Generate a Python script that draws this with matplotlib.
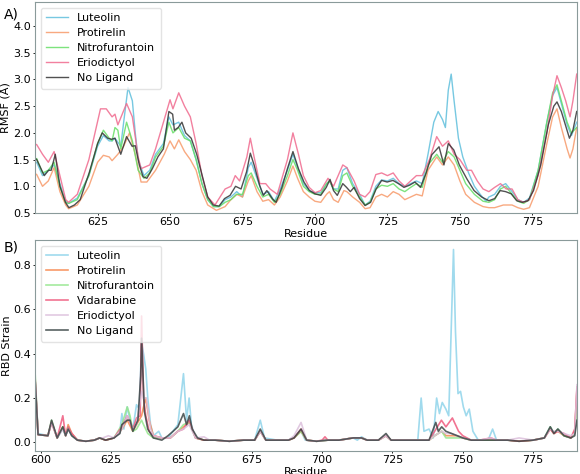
import matplotlib
matplotlib.use("Agg")
import matplotlib.pyplot as plt

# ---- A) RMSF per residue ----
lut_res = [603, 604, 606, 608, 610, 612, 614, 615, 618, 622, 625, 627, 629, 630, 631, 633, 634, 635.5, 637, 638, 639, 641, 643, 645, 647.7, 649.6, 651, 653, 655, 657, 659, 661, 663, 665, 667, 669, 671, 673, 675, 677, 678, 680, 682, 684, 686, 688, 690.5, 692.4, 694, 696, 698, 700, 702, 704, 705, 706.4, 708, 709.6, 711, 713, 715.4, 717.3, 719, 721, 723, 725, 727, 729, 731, 733, 735, 737, 739, 741, 742.5, 744, 745, 746, 747, 748, 749.5, 751, 753, 755, 757, 759, 760, 762, 764, 765.8, 768, 770, 772, 774, 777, 780, 782, 783.5, 785, 787, 788.5, 790.3]
lut_val = [1.42, 1.45, 1.2, 1.3, 1.4, 1.05, 0.72, 0.68, 0.78, 1.2, 1.75, 1.95, 1.85, 1.85, 1.9, 1.75, 2.2, 2.85, 2.6, 2.0, 1.5, 1.2, 1.3, 1.6, 1.8, 2.3, 2.15, 2.2, 1.95, 1.85, 1.5, 1.05, 0.75, 0.62, 0.62, 0.75, 0.8, 0.9, 0.8, 1.35, 1.45, 1.15, 0.85, 0.9, 0.72, 0.95, 1.3, 1.6, 1.35, 1.05, 0.92, 0.88, 0.88, 1.05, 1.1, 0.95, 0.95, 1.3, 1.35, 1.05, 0.85, 0.65, 0.72, 1.0, 1.12, 1.1, 1.15, 1.05, 1.0, 1.05, 1.1, 1.05, 1.6, 2.2, 2.4, 2.25, 2.1, 2.8, 3.1, 2.6, 1.9, 1.55, 1.25, 1.0, 0.85, 0.72, 0.8, 0.85, 1.0, 1.05, 0.9, 0.75, 0.7, 0.78, 1.3, 2.2, 2.7, 2.85, 2.55, 2.15, 1.95, 2.2]

pro_res = [603, 604, 606, 608, 610, 612, 614, 615, 618, 622, 625, 627, 629, 630, 632, 634, 636, 638, 640, 642, 645, 648, 650, 651.5, 653, 655, 657, 659, 661, 663, 666, 669, 671, 673, 675, 677, 678, 680, 682, 684, 686, 688, 690.5, 692.4, 694, 696, 698, 700, 702, 704, 705, 706.4, 708, 710, 711, 713, 715.4, 717.3, 719, 721, 723, 725, 727, 729, 731, 733, 735, 737, 739, 742, 744, 746, 748, 750, 752, 755, 758, 760, 762, 765, 768, 770, 772, 774, 777, 780, 782, 783.5, 785, 787, 788, 789, 790.3]
pro_val = [1.25, 1.22, 1.0, 1.1, 1.35, 0.9, 0.65, 0.58, 0.65, 1.0, 1.45, 1.58, 1.55, 1.48, 1.6, 1.75, 2.0, 1.6, 1.08, 1.08, 1.3, 1.6, 1.85, 1.7, 1.87, 1.65, 1.5, 1.3, 0.9, 0.65, 0.55, 0.62, 0.75, 0.85, 0.8, 1.1, 1.2, 0.9, 0.72, 0.75, 0.65, 0.8, 1.1, 1.38, 1.15, 0.9, 0.8, 0.72, 0.7, 0.85, 0.9, 0.75, 0.7, 0.92, 0.9, 0.8, 0.7, 0.58, 0.6, 0.8, 0.85, 0.8, 0.9, 0.85, 0.75, 0.8, 0.85, 0.82, 1.3, 1.55, 1.4, 1.55, 1.4, 1.1, 0.85, 0.7, 0.62, 0.6, 0.6, 0.65, 0.65, 0.6, 0.57, 0.6, 1.0, 1.8, 2.3, 2.45, 2.1, 1.7, 1.53, 1.7, 2.1]

nit_res = [603, 604, 606, 608, 610, 612, 614, 615, 618, 622, 625, 627, 629, 630, 631, 632, 633, 635, 637, 639, 641, 643, 645, 647.7, 649.6, 651, 653, 655, 657, 659, 661, 663, 665, 667, 669, 671, 673, 675, 677, 678, 680, 682, 684, 686, 688, 690.5, 692.4, 694, 696, 698, 700, 702, 704, 705, 706.4, 708, 709.6, 711, 713, 715.4, 717.3, 719, 721, 723, 725, 727, 729, 731, 733, 735, 737, 739, 742, 744, 746, 748, 750, 752, 755, 758, 760, 762, 764, 765.8, 768, 770, 772, 774, 777, 780, 782, 783.5, 785, 787, 788.5, 790.3]
nit_val = [1.5, 1.52, 1.25, 1.3, 1.45, 1.0, 0.7, 0.68, 0.75, 1.2, 1.8, 2.05, 1.9, 1.85, 2.1, 2.05, 1.7, 2.2, 1.85, 1.3, 1.15, 1.25, 1.55, 1.75, 2.2, 2.0, 2.1, 1.9, 1.85, 1.5, 1.05, 0.75, 0.62, 0.62, 0.7, 0.75, 0.85, 0.85, 1.2, 1.25, 1.0, 0.8, 0.85, 0.7, 0.85, 1.2, 1.5, 1.3, 1.0, 0.9, 0.85, 0.85, 1.05, 1.1, 0.95, 0.9, 1.2, 1.25, 1.0, 0.8, 0.65, 0.7, 0.95, 1.02, 1.0, 1.05, 0.95, 0.9, 0.98, 1.05, 0.98, 1.4, 1.6, 1.45, 1.65, 1.55, 1.3, 1.05, 0.85, 0.72, 0.7, 0.75, 0.95, 1.0, 0.85, 0.72, 0.68, 0.75, 1.3, 2.2, 2.75, 2.9, 2.6, 2.2, 2.0, 2.1]

eri_res = [603, 604, 606, 608, 610, 612, 614, 615, 618, 622, 626, 628, 630, 631, 632, 635, 637, 639, 640, 643, 645, 648, 650, 651, 653, 655, 657, 659, 661, 663, 665.5, 669, 671, 672.5, 674, 676.5, 677.7, 679, 681, 683, 684.5, 687, 690.5, 692.4, 694.3, 696, 698, 700, 702, 704.5, 706.4, 709.6, 711, 713.5, 715.4, 717.3, 719, 721, 723, 725, 727, 729, 731, 733, 735, 737, 739.5, 742, 744, 746, 748, 750, 752.4, 754, 756, 758, 760, 762, 764, 766, 768, 770, 772, 774, 777, 780, 782, 783.5, 785, 786.5, 788, 789, 790.3]
eri_val = [1.8, 1.78, 1.6, 1.45, 1.65, 1.2, 0.75, 0.7, 0.85, 1.5, 2.45, 2.45, 2.3, 2.35, 2.15, 2.55, 2.3, 1.55, 1.33, 1.4, 1.7, 2.25, 2.62, 2.45, 2.75, 2.5, 2.3, 1.8, 1.2, 0.8, 0.65, 0.95, 1.0, 1.2, 1.1, 1.55, 1.9, 1.55, 1.05, 1.05, 0.95, 0.85, 1.5, 2.0, 1.6, 1.2, 0.98, 0.88, 0.92, 1.15, 1.0, 1.4, 1.35, 1.1, 0.85, 0.8, 0.9, 1.22, 1.25, 1.2, 1.25, 1.1, 1.0, 1.1, 1.2, 1.2, 1.5, 1.93, 1.75, 1.85, 1.6, 1.5, 1.3, 1.3, 1.1, 0.95, 0.9, 0.98, 1.05, 0.95, 0.95, 0.75, 0.7, 0.75, 1.2, 2.0, 2.7, 3.07, 2.85, 2.6, 2.3, 2.6, 3.1]

nol_res = [603, 604, 606.6, 608.1, 609, 610.4, 612, 613.9, 615.1, 617, 619, 622.2, 625, 626.6, 628.5, 629.8, 631, 633, 635, 636.9, 638, 639.4, 640.7, 642, 643.9, 645.8, 647.7, 649.6, 650.9, 651.5, 652.8, 654.1, 655.4, 657.3, 659.2, 661.1, 663, 664.9, 666.9, 668.8, 670.7, 672.6, 674.5, 676.4, 677.7, 679, 680.9, 682.2, 683.4, 685.4, 686.6, 688.6, 690.5, 692.4, 694.3, 696.2, 698.1, 700, 702, 703.9, 705.2, 706.4, 707.7, 709.6, 710.9, 712.2, 713.5, 715.4, 717.3, 719.2, 721.1, 723, 724.9, 726.9, 728.8, 730.7, 732.6, 734.5, 736.4, 738.3, 740.3, 742.8, 744.5, 746, 747.9, 749.8, 752.4, 754.9, 757.5, 760, 762, 763.9, 765.8, 767.7, 769.6, 771.5, 773.5, 775.4, 777.9, 780.5, 782.4, 783.5, 785, 787.8, 789, 790.3]
nol_val = [1.54, 1.5, 1.2, 1.3, 1.3, 1.6, 1.0, 0.7, 0.6, 0.65, 0.75, 1.27, 1.8, 2.0, 1.9, 1.88, 1.9, 1.6, 1.93, 1.75, 1.76, 1.4, 1.18, 1.15, 1.33, 1.55, 1.7, 2.4, 2.35, 2.05, 2.1, 2.2, 2.0, 1.9, 1.6, 1.2, 0.8, 0.65, 0.63, 0.77, 0.83, 1.0, 0.95, 1.27, 1.62, 1.4, 1.02, 0.83, 0.92, 0.76, 0.7, 0.98, 1.33, 1.65, 1.33, 1.08, 0.92, 0.86, 0.83, 0.98, 1.13, 0.92, 0.83, 1.05, 0.98, 0.9, 0.98, 0.77, 0.64, 0.7, 0.95, 1.11, 1.08, 1.11, 1.05, 0.98, 1.02, 1.08, 0.98, 1.24, 1.59, 1.74, 1.4, 1.8, 1.68, 1.4, 1.14, 0.92, 0.8, 0.73, 0.77, 0.92, 0.9, 0.86, 0.73, 0.7, 0.73, 0.92, 1.4, 2.15, 2.5, 2.58, 2.4, 1.9, 2.05, 2.4]

# ---- B) RBD strain per residue ----
b_lut_res = [598, 599, 602.5, 603.8, 605.8, 607.8, 608.8, 609.7, 611, 613, 616, 619, 620.9, 623, 626, 628.1, 628.8, 629.5, 630.7, 631.7, 632.7, 634, 635, 635.8, 636.5, 637.3, 638, 639, 640, 641.9, 643, 645.2, 648.7, 650.7, 651.8, 652.7, 653.5, 655, 658, 662, 667, 672, 676, 678, 679.5, 684, 688, 690, 692.5, 694, 698, 702, 706, 711, 712.5, 714, 716, 720, 722.7, 724.5, 729, 734, 735.2, 736.2, 738, 739.5, 740.7, 741.7, 742.7, 744, 745, 746.7, 747.4, 748.3, 749.2, 750.2, 751.2, 752.3, 753.6, 755.5, 759, 760.6, 762, 766, 770, 775, 779, 781.1, 782.4, 783.8, 786, 788.4, 789.8, 790.6]
b_lut_val = [0.27, 0.04, 0.03, 0.09, 0.02, 0.06, 0.03, 0.06, 0.03, 0.01, 0.005, 0.01, 0.02, 0.01, 0.02, 0.05, 0.13, 0.06, 0.16, 0.1, 0.06, 0.17, 0.15, 0.45, 0.4, 0.33, 0.2, 0.08, 0.03, 0.05, 0.02, 0.02, 0.08, 0.31, 0.1, 0.2, 0.08, 0.02, 0.01, 0.01, 0.005, 0.01, 0.01, 0.1, 0.02, 0.01, 0.01, 0.02, 0.05, 0.01, 0.005, 0.01, 0.01, 0.02, 0.01, 0.025, 0.01, 0.01, 0.03, 0.01, 0.01, 0.01, 0.2, 0.05, 0.06, 0.02, 0.2, 0.13, 0.18, 0.15, 0.12, 0.87, 0.5, 0.22, 0.23, 0.16, 0.12, 0.15, 0.05, 0.01, 0.01, 0.06, 0.01, 0.01, 0.005, 0.01, 0.02, 0.07, 0.04, 0.06, 0.03, 0.02, 0.05, 0.2]

b_pro_res = [598, 599, 602.5, 603.8, 605.8, 607.8, 608.8, 609.7, 611, 613, 616, 619, 620.9, 623, 626, 628.8, 630.7, 632.7, 634, 635.8, 636.5, 637.3, 638.5, 640, 643, 646, 648.7, 650.7, 652.7, 655, 658, 662, 667, 672, 676, 678, 680, 684, 688, 690, 692.5, 694.5, 698, 702, 706, 711, 714, 716, 720, 722.7, 724.5, 729, 734, 738, 740, 742.5, 744, 746, 748, 750, 753, 756, 760, 762, 766, 770, 775, 779, 781.1, 782.4, 783.8, 786, 788.4, 789.8, 790.6]
b_pro_val = [0.26, 0.035, 0.03, 0.09, 0.02, 0.07, 0.03, 0.08, 0.04, 0.01, 0.005, 0.01, 0.02, 0.01, 0.02, 0.06, 0.1, 0.05, 0.08, 0.12, 0.16, 0.2, 0.1, 0.03, 0.02, 0.02, 0.05, 0.07, 0.09, 0.02, 0.01, 0.01, 0.005, 0.01, 0.01, 0.05, 0.01, 0.01, 0.01, 0.02, 0.05, 0.01, 0.005, 0.01, 0.01, 0.02, 0.02, 0.01, 0.01, 0.03, 0.01, 0.01, 0.01, 0.01, 0.03, 0.05, 0.03, 0.03, 0.03, 0.02, 0.01, 0.01, 0.01, 0.01, 0.01, 0.005, 0.01, 0.02, 0.06, 0.04, 0.05, 0.03, 0.02, 0.05, 0.24]

b_nit_res = [598, 599, 602.5, 603.8, 605.8, 607.8, 608.8, 609.7, 611, 613, 616, 619, 620.9, 623, 626, 628.8, 630.7, 631.7, 632.7, 634, 635.8, 636.5, 638, 640, 643, 646, 648.7, 650.7, 652.7, 655, 658, 662, 667, 672, 676, 678, 680, 684, 688, 690, 692.5, 694.5, 698, 702, 706, 711, 714, 716, 720, 722.7, 724.5, 729, 734, 738, 740, 742.5, 744, 746, 748, 750, 753, 756, 760, 762, 766, 770, 775, 779, 781.1, 782.4, 783.8, 786, 788.4, 789.8, 790.6]
b_nit_val = [0.3, 0.035, 0.03, 0.1, 0.02, 0.07, 0.03, 0.07, 0.03, 0.01, 0.005, 0.01, 0.02, 0.01, 0.02, 0.08, 0.16, 0.12, 0.05, 0.06, 0.1, 0.08, 0.04, 0.02, 0.02, 0.02, 0.05, 0.08, 0.09, 0.02, 0.01, 0.01, 0.005, 0.01, 0.01, 0.05, 0.01, 0.01, 0.01, 0.02, 0.05, 0.01, 0.005, 0.01, 0.01, 0.02, 0.02, 0.01, 0.01, 0.03, 0.01, 0.01, 0.01, 0.01, 0.03, 0.05, 0.02, 0.02, 0.02, 0.02, 0.01, 0.01, 0.01, 0.01, 0.01, 0.005, 0.01, 0.02, 0.07, 0.04, 0.06, 0.03, 0.02, 0.04, 0.15]

b_vid_res = [598, 599, 602.5, 603.8, 605.8, 607.8, 608.8, 609.7, 611, 613, 616, 619, 620.9, 623, 626, 628.8, 630.7, 632.7, 634, 635.3, 635.8, 636.5, 637.3, 638.5, 640, 643, 646, 648.7, 650.7, 652.7, 655, 658, 662, 667, 672, 676, 678, 680, 684, 688, 690, 692.5, 694.5, 698, 700, 701, 702, 706, 711, 714, 716, 720, 722.7, 724.5, 729, 734, 738, 740, 742.4, 744, 746.3, 748.5, 750, 753, 756, 760, 762, 766, 770, 775, 779, 781.1, 782.4, 783.8, 786, 788.4, 789.8, 790.6]
b_vid_val = [0.28, 0.035, 0.03, 0.09, 0.02, 0.12, 0.03, 0.07, 0.04, 0.01, 0.005, 0.01, 0.02, 0.01, 0.02, 0.07, 0.12, 0.06, 0.11, 0.12, 0.57, 0.2, 0.12, 0.05, 0.03, 0.02, 0.02, 0.05, 0.06, 0.1, 0.02, 0.01, 0.01, 0.005, 0.01, 0.01, 0.05, 0.01, 0.01, 0.01, 0.02, 0.06, 0.01, 0.005, 0.01, 0.025, 0.01, 0.01, 0.02, 0.02, 0.01, 0.01, 0.03, 0.01, 0.01, 0.01, 0.01, 0.05, 0.1, 0.07, 0.11, 0.05, 0.03, 0.01, 0.01, 0.02, 0.01, 0.01, 0.005, 0.01, 0.02, 0.06, 0.04, 0.05, 0.04, 0.02, 0.06, 0.25]

b_eri_res = [598, 599, 602.5, 603.8, 605.8, 607.8, 608.8, 609.7, 611, 613, 616, 619, 620.9, 622, 624, 626, 628.8, 630.7, 632.7, 634, 635.8, 636.5, 637.5, 639, 640, 643, 646, 648.7, 650.7, 652.7, 655, 658, 660, 662, 667, 672, 676, 678, 680, 684, 688, 690, 692.5, 694.5, 698, 702, 706, 711, 714, 716, 720, 722.7, 724.5, 729, 734, 738, 740, 742.5, 744, 746, 748, 750, 753, 756, 760, 762, 766, 770, 775, 779, 781.1, 782.4, 783.8, 786, 788.4, 789.8, 790.6]
b_eri_val = [0.27, 0.035, 0.03, 0.09, 0.02, 0.06, 0.03, 0.06, 0.03, 0.01, 0.005, 0.01, 0.02, 0.02, 0.03, 0.02, 0.06, 0.12, 0.06, 0.08, 0.23, 0.2, 0.2, 0.06, 0.03, 0.02, 0.02, 0.05, 0.06, 0.08, 0.02, 0.025, 0.01, 0.01, 0.005, 0.01, 0.01, 0.05, 0.01, 0.01, 0.01, 0.03, 0.09, 0.01, 0.005, 0.01, 0.01, 0.02, 0.02, 0.01, 0.01, 0.03, 0.01, 0.01, 0.01, 0.01, 0.03, 0.05, 0.04, 0.04, 0.03, 0.02, 0.01, 0.01, 0.02, 0.01, 0.01, 0.02, 0.01, 0.02, 0.06, 0.05, 0.05, 0.04, 0.03, 0.04, 0.26]

b_nol_res = [598, 599, 602.5, 603.8, 605.8, 607.8, 608.8, 609.7, 611, 613, 616, 619, 620.9, 623, 626, 628.1, 628.8, 630.7, 631.7, 632.7, 634.5, 635.5, 635.8, 636.8, 638, 640, 643, 645.2, 647, 648.7, 650.7, 651.8, 652.8, 653.8, 655.7, 658, 662, 667, 672, 676, 678, 680, 684, 688, 690, 692.5, 694.5, 698, 702, 706, 711, 714, 716, 720, 722.7, 724.5, 729, 734, 738, 740.4, 741.3, 742.5, 744, 746, 750, 753, 756, 760, 762, 766, 770, 775, 779, 781.1, 782.4, 783.8, 786, 788.4, 789.8, 790.6]
b_nol_val = [0.27, 0.035, 0.03, 0.1, 0.02, 0.07, 0.03, 0.06, 0.03, 0.01, 0.005, 0.01, 0.02, 0.01, 0.02, 0.04, 0.08, 0.1, 0.1, 0.05, 0.1, 0.3, 0.47, 0.14, 0.06, 0.02, 0.01, 0.03, 0.05, 0.07, 0.13, 0.08, 0.12, 0.06, 0.02, 0.01, 0.01, 0.005, 0.01, 0.01, 0.06, 0.01, 0.01, 0.01, 0.02, 0.06, 0.01, 0.005, 0.01, 0.01, 0.02, 0.02, 0.01, 0.01, 0.04, 0.01, 0.01, 0.01, 0.01, 0.09, 0.05, 0.07, 0.05, 0.04, 0.02, 0.01, 0.01, 0.01, 0.01, 0.01, 0.005, 0.01, 0.02, 0.07, 0.04, 0.06, 0.03, 0.02, 0.03, 0.1]

top_series = [
    ("Luteolin", lut_res, lut_val, "#5fbfdc", 1.0),
    ("Protirelin", pro_res, pro_val, "#f79a6a", 1.0),
    ("Nitrofurantoin", nit_res, nit_val, "#66de66", 1.0),
    ("Eriodictyol", eri_res, eri_val, "#f06a8e", 1.0),
    ("No Ligand", nol_res, nol_val, "#333333", 1.0),
]
bottom_series = [
    ("Luteolin", b_lut_res, b_lut_val, "#8fd4ea", 1.2),
    ("Protirelin", b_pro_res, b_pro_val, "#f7884e", 1.2),
    ("Nitrofurantoin", b_nit_res, b_nit_val, "#95e68d", 1.2),
    ("Vidarabine", b_vid_res, b_vid_val, "#ef5a7e", 1.2),
    ("Eriodictyol", b_eri_res, b_eri_val, "#dcc0dc", 1.2),
    ("No Ligand", b_nol_res, b_nol_val, "#3c4646", 1.2),
]

plt.rcParams["font.family"] = ["DejaVu Sans"]
plt.rcParams["font.size"] = 8

fig = plt.figure(figsize=(5.8, 4.74), dpi=100)
ax_a = fig.add_axes([0.0603, 0.5506, 0.9345, 0.4452])
ax_b = fig.add_axes([0.0603, 0.0485, 0.9345, 0.4452])

for name, res, val, col, lw in top_series:
    ax_a.plot(res, val, color=col, lw=lw, alpha=0.85, label=name)
ax_a.set_xlim(603.4, 790.4)
ax_a.set_ylim(0.5, 4.45)
ax_a.set_xticks([625, 650, 675, 700, 725, 750, 775])
ax_a.set_yticks([0.5, 1.0, 1.5, 2.0, 2.5, 3.0, 3.5, 4.0])
ax_a.set_xlabel("Residue", labelpad=1)
ax_a.set_ylabel("RMSF (Å)", labelpad=1)
ax_a.legend(loc="upper left", fontsize=8, handlelength=2.0, borderpad=0.5,
            labelspacing=0.45, framealpha=0.8, edgecolor="#dddddd")

for name, res, val, col, lw in bottom_series:
    ax_b.plot(res, val, color=col, lw=lw, alpha=0.85, label=name)
ax_b.set_xlim(597.9, 790.6)
ax_b.set_ylim(-0.039, 0.913)
ax_b.set_xticks([600, 625, 650, 675, 700, 725, 750, 775])
ax_b.set_yticks([0.0, 0.2, 0.4, 0.6, 0.8])
ax_b.set_xlabel("Residue", labelpad=1)
ax_b.set_ylabel("RBD Strain", labelpad=1)
ax_b.legend(loc="upper left", fontsize=8, handlelength=2.0, borderpad=0.5,
            labelspacing=0.45, framealpha=0.8, edgecolor="#dddddd")

for ax in (ax_a, ax_b):
    ax.tick_params(length=1.5, width=0.6, pad=1.5, labelsize=8)
    for sp in ax.spines.values():
        sp.set_color("#8a9a9a")
        sp.set_linewidth(0.8)

fig.text(0.006, 0.985, "A)", fontsize=10, va="top")
fig.text(0.006, 0.492, "B)", fontsize=10, va="top")

fig.savefig("out.png", dpi=100)
